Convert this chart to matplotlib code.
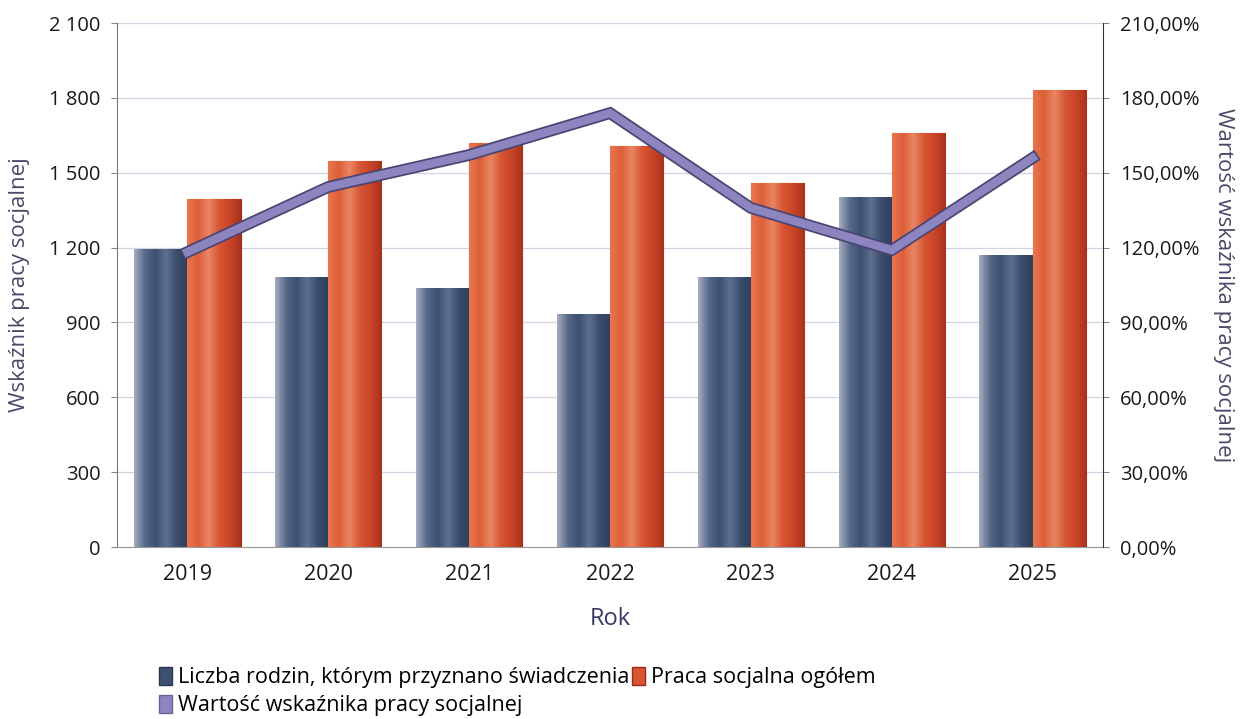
"""Wskaźnik pracy socjalnej 2019-2025: słupki + linia na drugiej osi."""

import matplotlib
matplotlib.use("Agg")
import matplotlib.pyplot as plt
import matplotlib.patheffects as pe
from matplotlib.colors import LinearSegmentedColormap
from matplotlib.patches import Patch
from matplotlib.ticker import FuncFormatter
import numpy as np

# --- data ---
years = ["2019", "2020", "2021", "2022", "2023", "2024", "2025"]
rodziny = [1195, 1084, 1040, 932, 1084, 1402, 1169]
praca_socjalna = [1394, 1546, 1618, 1606, 1458, 1659, 1831]
wskaznik = [118.2, 144.3, 157.1, 173.9, 135.9, 119.0, 155.9]

left_ticks = [0, 300, 600, 900, 1200, 1500, 1800, 2100]
right_ticks = [0, 30, 60, 90, 120, 150, 180, 210]

FONT = ["Open Sans", "DejaVu Sans"]
LABEL_COLOR = "#4a4868"

blue_cmap = LinearSegmentedColormap.from_list(
    "blue", ["#a3abbf", "#56698a", "#3d5070", "#5d7090", "#3a4c6c", "#2f3f5c"])
orange_cmap = LinearSegmentedColormap.from_list(
    "orange", ["#e8764f", "#dc5f39", "#e98662", "#d65533", "#c84528", "#a8321c"])


def gradient_bars(ax, bars, cmap):
    """Paint a horizontal gradient inside each bar patch."""
    grad = np.linspace(0, 1, 64).reshape(1, -1)
    for b in bars:
        x0, y0 = b.get_x(), b.get_y()
        w, h = b.get_width(), b.get_height()
        im = ax.imshow(grad, cmap=cmap, aspect="auto",
                       extent=(x0, x0 + w, y0, y0 + h), zorder=2)
        im.set_clip_path(b)


fig = plt.figure(figsize=(12.42, 7.19), dpi=100)
ax = fig.add_axes([0.0942, 0.2392, 0.7939, 0.7288])
ax2 = ax.twinx()

x = np.arange(len(years))
w = 0.377
bars1 = ax.bar(x - w / 2, rodziny, w, color="#3d5070", edgecolor="#2a3550",
               linewidth=0.6, zorder=2)
bars2 = ax.bar(x + w / 2, praca_socjalna, w, color="#d65533",
               edgecolor="#a0281a", linewidth=0.8, zorder=2)
gradient_bars(ax, bars1, blue_cmap)
gradient_bars(ax, bars2, orange_cmap)

ax.set_xlim(-0.5, len(years) - 0.5)
ax.set_ylim(0, 2100)
ax.set_yticks(left_ticks)
ax.yaxis.set_major_formatter(
    FuncFormatter(lambda v, p: f"{int(v):,}".replace(",", " ")))
ax.set_xticks(x)
ax.set_xticklabels(years, family=FONT, fontsize=15.5, color="#1a1a1a")
ax.tick_params(axis="x", length=0, pad=12)
ax.tick_params(axis="y", length=4, width=0.8, color="#888888",
               labelsize=14.5, labelcolor="#1a1a1a", pad=8)
for lab in ax.get_yticklabels():
    lab.set_family(FONT)

ax.grid(axis="y", color="#d2d2e2", linewidth=0.9, zorder=0)
ax.set_axisbelow(True)
ax.spines["top"].set_visible(False)
ax.spines["left"].set_color("#777777")
ax.spines["bottom"].set_color("#999999")
ax.spines["right"].set_visible(False)

# --- line on secondary axis ---
ax2.plot(x, wskaznik, color="#8d85bf", linewidth=6, zorder=5,
         solid_joinstyle="miter",
         path_effects=[pe.Stroke(linewidth=8.5, foreground="#4a4472"),
                       pe.Normal()])
ax2.set_ylim(0, 210)
ax2.set_yticks(right_ticks)
ax2.yaxis.set_major_formatter(FuncFormatter(lambda v, p: f"{v:.2f}%".replace(".", ",")))
ax2.tick_params(axis="y", length=4, width=0.8, color="#888888",
                labelsize=14.5, labelcolor="#1a1a1a", pad=8)
for lab in ax2.get_yticklabels():
    lab.set_family(FONT)
ax2.spines["top"].set_visible(False)
ax2.spines["left"].set_visible(False)
ax2.spines["bottom"].set_visible(False)
ax2.spines["right"].set_color("#333333")

ax.set_ylabel("Wskaźnik pracy socjalnej", family=FONT, fontsize=16,
              color=LABEL_COLOR, labelpad=14)
ax2.set_ylabel("Wartość wskaźnika pracy socjalnej", family=FONT, fontsize=16,
               color=LABEL_COLOR, rotation=-90, labelpad=25)
ax.set_xlabel("Rok", family=FONT, fontsize=17, color="#3a3868", labelpad=16)

# --- legend: two entries on first row, line entry below ---
handles = [
    Patch(facecolor="#3d5070", edgecolor="#2a3550", label="Liczba rodzin, którym przyznano świadczenia"),
    Patch(facecolor="#8d85bf", edgecolor="#6a6298", label="Wartość wskaźnika pracy socjalnej"),
    Patch(facecolor="#d65533", edgecolor="#a0281a", label="Praca socjalna ogółem"),
]
fig.legend(handles=handles, ncol=2, loc="upper left",
           bbox_to_anchor=(0.128, 1 - 667 / 719), bbox_transform=fig.transFigure,
           frameon=False, prop={"family": FONT, "size": 15.5},
           handlelength=0.6, handleheight=0.9, handletextpad=0.3,
           columnspacing=0.1, labelspacing=0.3, borderpad=0,
           borderaxespad=0)

fig.savefig("out.png", dpi=100, facecolor="white")
